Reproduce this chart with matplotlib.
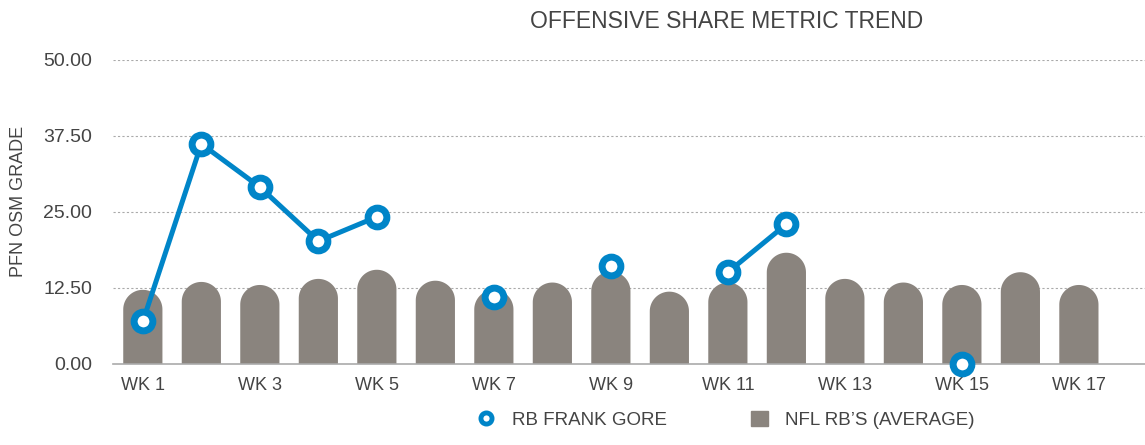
import numpy as np
import matplotlib
matplotlib.use("Agg")
import matplotlib.pyplot as plt
from matplotlib.patches import Polygon, Patch
from matplotlib.lines import Line2D

weeks = ["WK %d" % i for i in range(1, 18)]
nfl_avg = [12.2, 13.5, 13.0, 14.0, 15.5, 13.7, 12.2, 13.4, 15.2, 11.9,
           13.4, 18.3, 14.0, 13.4, 13.0, 15.1, 13.0]
gore = [7.0, 36.2, 29.1, 20.2, 24.2, np.nan, 11.0, np.nan, 16.1, np.nan,
        15.1, 23.0, np.nan, np.nan, 0.0, np.nan, np.nan]
yticks = [0, 12.5, 25, 37.5, 50]

bar_color = "#8a847e"
line_color = "#0085c8"
text_color = "#444444"

plt.rcParams["font.family"] = ["Liberation Sans", "DejaVu Sans"]

W, H = 1145, 445
fig = plt.figure(figsize=(W / 100, H / 100), dpi=100)
ax = fig.add_axes([113 / W, 1 - 364 / H, (W - 113) / W, (364 - 60) / H])

x = np.arange(len(weeks))
ax.set_xlim(-0.51, 17.13)
ax.set_ylim(0, 50)

# bars with a round top, drawn as one polygon each
bw = 0.67
px_per_x = (W - 113) / (17.13 + 0.51)
px_per_y = 304 / 50
r_x = bw / 2
r_y = r_x * px_per_x / px_per_y
t = np.linspace(0, np.pi, 40)
for xi, v in zip(x, nfl_avg):
    arc = np.column_stack([xi + r_x * np.cos(t), v - r_y + r_y * np.sin(t)])
    pts = np.vstack([[xi + r_x, 0], arc, [xi - r_x, 0]])
    ax.add_patch(Polygon(pts, closed=True, facecolor=bar_color, edgecolor="none", zorder=2))

ax.plot(x, gore, color=line_color, lw=3.6, marker="o", ms=13.5,
        mfc="white", mec=line_color, mew=5, zorder=4, clip_on=False)

ax.set_yticks(yticks)
ax.set_yticklabels(["%.2f" % v for v in yticks])
ax.set_xticks(x[::2])
ax.set_xticklabels(weeks[::2])
ax.tick_params(length=0, colors=text_color)
ax.tick_params(axis="y", pad=15, labelsize=14)
ax.tick_params(axis="x", pad=9, labelsize=13)

for v in yticks[1:]:
    ax.axhline(v, color="#aaaaaa", lw=0.8, ls=(0, (2, 2)), zorder=1)
for s in ["top", "right", "left"]:
    ax.spines[s].set_visible(False)
ax.spines["bottom"].set_color("#aaaaaa")
ax.spines["bottom"].set_linewidth(1.2)

ax.set_ylabel("PFN OSM GRADE", fontsize=13, color=text_color)
ax.yaxis.set_label_coords((27 - 113) / (W - 113), (364 - 201) / 304)

fig.text(727 / W, 1 - 22 / H, "OFFENSIVE SHARE METRIC TREND", fontsize=16.5,
         color=text_color, ha="center", va="center")

handles = [
    Line2D([], [], color=line_color, lw=0, marker="o", ms=8, mfc="white",
           mec=line_color, mew=3.5),
    Patch(color=bar_color),
]
fig.legend(handles, ["RB FRANK GORE", "NFL RB\u2019S (AVERAGE)"], loc="center",
           bbox_to_anchor=(726 / W, 1 - 420 / H), ncol=2, frameon=False,
           fontsize=13.5, labelcolor=text_color, columnspacing=4.5,
           handlelength=0.9, handleheight=0.9, handletextpad=0.9)

fig.savefig("out.png", dpi=100)
